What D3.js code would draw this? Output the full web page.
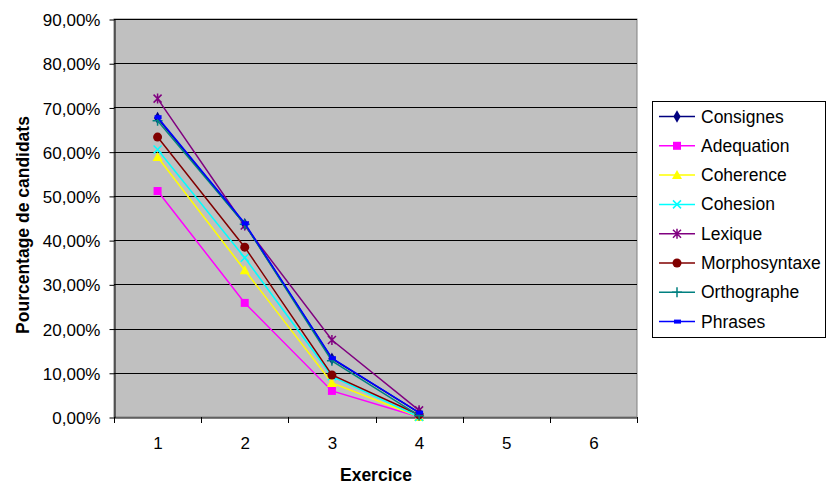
<!DOCTYPE html>
<html><head><meta charset="utf-8">
<script src="https://cdn.jsdelivr.net/npm/d3@7"></script>
<style>body{margin:0;background:#fff}svg text{font-family:"Liberation Sans",Arial,sans-serif}</style>
</head><body><svg id="c" width="829" height="485"></svg>
<script>
const categories = ["1","2","3","4","5","6"];
const yTicks = [0,10,20,30,40,50,60,70,80,90];
const seriesNames = ["Consignes","Adequation","Coherence","Cohesion","Lexique","Morphosyntaxe","Orthographe","Phrases"];
const consignes = [67.6, 43.6, 13.2, 1.0];
const adequation = [51.1, 25.8, 5.9, 0.0];
const coherence = [58.8, 33.2, 7.7, 0.0];
const cohesion = [60.5, 36.0, 9.2, 0.0];
const lexique = [72.0, 43.3, 17.4, 1.5];
const morphosyntaxe = [63.3, 38.4, 9.5, 0.5];
const orthographe = [67.0, 43.6, 12.7, 0.3];
const phrases = [67.8, 43.8, 13.3, 1.0];
const colors = ["#000080","#FF00FF","#FFFF00","#00FFFF","#800080","#800000","#008080","#0000FF"];
const symbols = ["diamond","square","triangle","x","star","circle","plus","dash"];
const values = [consignes,adequation,coherence,cohesion,lexique,morphosyntaxe,orthographe,phrases];

const svg = d3.select("#c");
const L=114,R=637,T=19,B=417;
const x = d3.scaleBand().domain(categories).range([L,R]);
const y = d3.scaleLinear().domain([0,90]).range([B,T]);

svg.append("rect").attr("x",L).attr("y",T).attr("width",R-L).attr("height",B-T)
  .attr("fill","#c0c0c0").attr("stroke","#808080").attr("stroke-width",1);
svg.append("g").selectAll("line").data(yTicks.slice(1)).join("line")
  .attr("x1",L).attr("x2",R).attr("y1",d=>Math.round(y(d))+0.5).attr("y2",d=>Math.round(y(d))+0.5)
  .attr("stroke","#000").attr("stroke-width",1);

const fmt = d => d.toFixed(2).replace(".",",")+"%";
const yAxis = svg.append("g").attr("transform",`translate(${L+0.5},0.5)`)
  .call(d3.axisLeft(y).tickValues(yTicks).tickFormat(fmt).tickSize(5).tickSizeOuter(0));
yAxis.select(".domain").attr("stroke","#000");
yAxis.selectAll("text").attr("font-size",17).attr("fill","#000").attr("dx","-6").attr("dy","0.36em");
const xAxis = svg.append("g").attr("transform",`translate(0.5,${B+0.5})`)
  .call(d3.axisBottom(x).tickSize(6).tickSizeOuter(0));
xAxis.selectAll(".tick line").remove();
xAxis.selectAll(".tick text").attr("font-size",17).attr("fill","#000").attr("dy","1.3em");
xAxis.select(".domain").attr("stroke","#000");
svg.append("g").selectAll("line").data(d3.range(categories.length+1)).join("line")
  .attr("x1",i=>Math.round(L+i*x.step())+0.5).attr("x2",i=>Math.round(L+i*x.step())+0.5)
  .attr("y1",B).attr("y2",B+6).attr("stroke","#000");

svg.append("text").attr("x",376).attr("y",481).attr("text-anchor","middle")
  .attr("font-size",17.5).attr("font-weight","bold").text("Exercice");
svg.append("text").attr("transform",`translate(29,225) rotate(-90)`).attr("text-anchor","middle")
  .attr("font-size",17.5).attr("font-weight","bold").text("Pourcentage de candidats");

function marker(g,type,color){
  if(type==="diamond") g.append("path").attr("d",d3.symbol(d3.symbolDiamond,45)()).attr("fill",color);
  else if(type==="square") g.append("rect").attr("x",-4).attr("y",-4).attr("width",8).attr("height",8).attr("fill",color);
  else if(type==="triangle") g.append("path").attr("d","M0,-5L5,4L-5,4Z").attr("fill",color);
  else if(type==="circle") g.append("circle").attr("r",4.5).attr("fill",color);
  else if(type==="x") g.append("path").attr("d","M-4,-4L4,4M-4,4L4,-4").attr("stroke",color).attr("stroke-width",1.5);
  else if(type==="star") g.append("path").attr("d","M-4,-4L4,4M-4,4L4,-4M0,-5L0,5").attr("stroke",color).attr("stroke-width",1.5);
  else if(type==="plus") g.append("path").attr("d","M-5,0L5,0M0,-5L0,5").attr("stroke",color).attr("stroke-width",1.5);
  else if(type==="dash") g.append("rect").attr("x",-3).attr("y",-2).attr("width",7).attr("height",4).attr("fill",color);
}
const line = d3.line().x((d,i)=>x(categories[i])+x.bandwidth()/2).y(d=>y(d));
seriesNames.forEach((name,si)=>{
  const g = svg.append("g");
  g.append("path").attr("d",line(values[si])).attr("fill","none").attr("stroke",colors[si]).attr("stroke-width",1.5);
  values[si].forEach((v,i)=>{
    const m = g.append("g").attr("transform",`translate(${x(categories[i])+x.bandwidth()/2},${y(v)})`);
    marker(m,symbols[si],colors[si]);
  });
});

const lg = svg.append("g");
lg.append("rect").attr("x",652.5).attr("y",101.5).attr("width",173).attr("height",236)
  .attr("fill","#fff").attr("stroke","#000");
seriesNames.forEach((name,i)=>{
  const yy = 116.5 + i*29.3;
  lg.append("line").attr("x1",659).attr("x2",695).attr("y1",yy).attr("y2",yy).attr("stroke",colors[i]).attr("stroke-width",1.5);
  const m = lg.append("g").attr("transform",`translate(677,${yy})`);
  marker(m,symbols[i],colors[i]);
  lg.append("text").attr("x",701).attr("y",yy+6).attr("font-size",17.5).text(name);
});
</script></body></html>
